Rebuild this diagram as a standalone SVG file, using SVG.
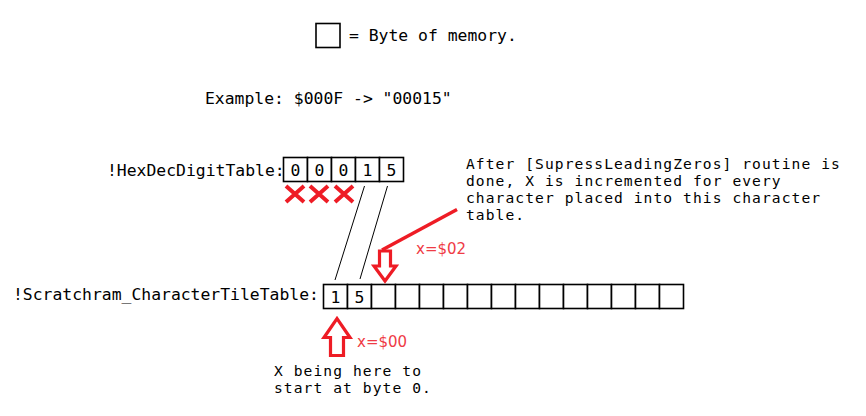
<svg xmlns="http://www.w3.org/2000/svg" width="866" height="416" viewBox="0 0 866 416">
<style>
.t{font-family:"DejaVu Sans Mono","Liberation Mono",monospace;font-size:16.4px;fill:#000}
.n{font-family:"DejaVu Sans Mono","Liberation Mono",monospace;font-size:14.6px;letter-spacing:1.08px;fill:#000}
.d{font-family:"DejaVu Sans Mono","Liberation Mono",monospace;font-size:16.4px;fill:#000;text-anchor:middle}
.cell{fill:#fff;stroke:#000;stroke-width:1.6}
.r{font-family:"DejaVu Sans","Liberation Sans",sans-serif;font-size:15px;fill:#ef3b45}
.x{stroke:#ee1c25;stroke-width:4;stroke-linecap:butt}
.arr{fill:#fff;stroke:#ee1c25;stroke-width:3.2;stroke-linejoin:miter}
.conn{stroke:#000;stroke-width:1;fill:none}
</style>
<rect width="866" height="416" fill="#fff"/>
<g id="legend">
<rect class="cell" x="316" y="23.5" width="24" height="24"/>
<text class="t" x="349" y="41">= Byte of memory.</text>
</g>
<g id="example">
<text class="t" x="205" y="104">Example: $000F -&gt; "00015"</text>
</g>
<g id="hexdec">
<text class="t" x="107" y="176">!HexDecDigitTable:</text>
<rect class="cell" x="283.5" y="157.5" width="24" height="24"/>
<rect class="cell" x="307.5" y="157.5" width="24" height="24"/>
<rect class="cell" x="331.5" y="157.5" width="24" height="24"/>
<rect class="cell" x="355.5" y="157.5" width="24" height="24"/>
<rect class="cell" x="379.5" y="157.5" width="24" height="24"/>
<text class="d" x="295.5" y="176">0</text>
<text class="d" x="319.5" y="176">0</text>
<text class="d" x="343.5" y="176">0</text>
<text class="d" x="367.5" y="176">1</text>
<text class="d" x="391.5" y="176">5</text>
</g>
<g id="crosses">
<path class="x" d="M286,186 L304,202 M304,186 L286,202"/>
<path class="x" d="M310,186 L328,202 M328,186 L310,202"/>
<path class="x" d="M335,186 L353,202 M353,186 L335,202"/>
</g>
<g id="note">
<text class="n" x="466" y="169">After [SupressLeadingZeros] routine is</text>
<text class="n" x="466" y="186">done, X is incremented for every</text>
<text class="n" x="466" y="203">character placed into this character</text>
<text class="n" x="466" y="220">table.</text>
</g>
<g id="scratch">
<text class="t" x="13" y="300">!Scratchram_CharacterTileTable:</text>
<rect class="cell" x="323.5" y="284.5" width="24" height="24"/>
<rect class="cell" x="347.5" y="284.5" width="24" height="24"/>
<rect class="cell" x="371.5" y="284.5" width="24" height="24"/>
<rect class="cell" x="395.5" y="284.5" width="24" height="24"/>
<rect class="cell" x="419.5" y="284.5" width="24" height="24"/>
<rect class="cell" x="443.5" y="284.5" width="24" height="24"/>
<rect class="cell" x="467.5" y="284.5" width="24" height="24"/>
<rect class="cell" x="491.5" y="284.5" width="24" height="24"/>
<rect class="cell" x="515.5" y="284.5" width="24" height="24"/>
<rect class="cell" x="539.5" y="284.5" width="24" height="24"/>
<rect class="cell" x="563.5" y="284.5" width="24" height="24"/>
<rect class="cell" x="587.5" y="284.5" width="24" height="24"/>
<rect class="cell" x="611.5" y="284.5" width="24" height="24"/>
<rect class="cell" x="635.5" y="284.5" width="24" height="24"/>
<rect class="cell" x="659.5" y="284.5" width="24" height="24"/>
<text class="d" x="335.5" y="303">1</text>
<text class="d" x="359.5" y="303">5</text>
</g>
<g id="arrow-x02">
<path class="arr" d="M379.5,251 L390.5,251 L390.5,266 L396,266 L385,281 L374,266 L379.5,266 Z"/>
<text class="r" x="416" y="254">x=$02</text>
</g>
<g id="arrow-x00">
<path class="arr" d="M330.5,355.5 L343.5,355.5 L343.5,337.5 L350,337.5 L337,318.5 L324,337.5 L330.5,337.5 Z"/>
<text class="r" x="357" y="347">x=$00</text>
</g>
<g id="start-note">
<text class="n" x="274" y="376">X being here to</text>
<text class="n" x="274" y="393">start at byte 0.</text>
</g>
<g id="connectors">
<line class="conn" x1="364.5" y1="186" x2="335" y2="280"/>
<line class="conn" x1="387.5" y1="186" x2="360" y2="279"/>
<line x1="457" y1="209.5" x2="382" y2="250" stroke="#ee1c25" stroke-width="3.5"/>
</g>
</svg>
